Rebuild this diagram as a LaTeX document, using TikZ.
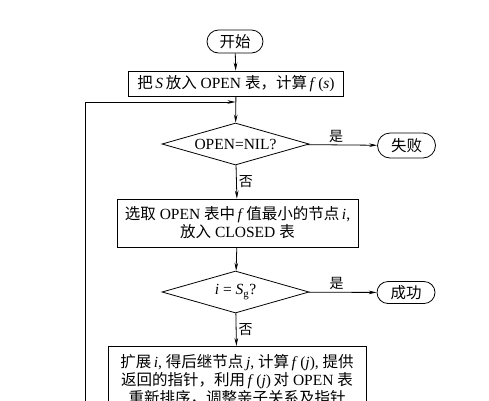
\documentclass[tikz,border=0pt]{standalone}
\usepackage{fontspec}
\setmainfont{Liberation Serif}
\newfontfamily\cjk{Noto Sans CJK SC}
\newcommand{\zh}[1]{{\cjk #1}}
\usetikzlibrary{arrows.meta,shapes.geometric,shapes.misc}
\tikzset{
  term/.style={draw, rounded rectangle, minimum width=62pt, minimum height=25pt, inner sep=2pt},
  proc/.style={draw, rectangle, inner sep=3pt, align=center},
  dec/.style={draw, diamond, shape aspect=3.5, minimum width=147pt, minimum height=42pt, inner sep=0pt},
  arr/.style={-{Stealth[length=8pt,width=3.6pt]}},
  lab/.style={inner sep=2pt, font=\fontsize{14}{16}\selectfont},
}
\begin{document}
\begin{tikzpicture}[x=1pt,y=-1pt,line width=0.8pt,font=\fontsize{15.5}{18}\selectfont]
\useasboundingbox (0,0) rectangle (489,400);
\clip (0,0) rectangle (489,400);
\fill[white] (0,0) rectangle (489,400);
\node[term, minimum width=60pt, minimum height=23pt] (start) at (235,41.5) {\zh{开始}};
\node[proc, minimum width=215pt, minimum height=25pt] (init) at (236,83.5)
  {\zh{把}\,\textit{S}\,\zh{放入} OPEN \zh{表，计算}\,\textit{f}\,(\textit{s})};
\node[dec] (nil) at (235.5,144) {OPEN=NIL?};
\node[term] (fail) at (406.5,145.5) {\zh{失败}};
\node[proc, minimum width=241pt, minimum height=48pt] (select) at (237.5,223)
  {\zh{选取} OPEN \zh{表中}\,\textit{f}\,\zh{值最小的节点}\,\textit{i},\\\zh{放入} CLOSED \zh{表}};
\node[dec] (goal) at (235.5,292) {\textit{i} = \textit{S}\textsubscript{g}?};
\node[term, minimum height=22pt] (succ) at (406,292.5) {\zh{成功}};
\node[proc, minimum width=258pt, anchor=north, inner ysep=8pt] (expand) at (237,346)
  {\zh{扩展}\,\textit{i}, \zh{得后继节点}\,\textit{j}, \zh{计算}\,\textit{f}\,(\textit{j}), \zh{提供}\\
   \zh{返回的指针，利用}\,\textit{f}\,(\textit{j})\,\zh{对} OPEN \zh{表}\\
   \zh{重新排序，调整亲子关系及指针}};
\coordinate (join) at (235.5,102);
\coordinate (loopend) at (85,440);
\draw[arr] (start) -- (init);
\draw[arr] (init) -- (nil);
\draw[arr] (nil) -- node[above, lab, xshift=-6pt] {\zh{是}} (fail);
\draw[arr] (nil) -- node[right, lab] {\zh{否}} (select);
\draw[arr] (select) -- (goal);
\draw[arr] (goal) -- node[above, lab, xshift=-6pt] {\zh{是}} (succ);
\draw[arr] (goal) -- node[right, lab] {\zh{否}} (expand);
\draw[arr] (loopend) |- (join);
\end{tikzpicture}
\end{document}
